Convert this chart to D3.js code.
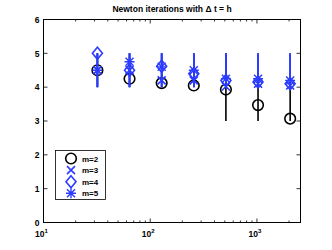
<!DOCTYPE html>
<html lang="en">
<head>
<meta charset="UTF-8">
<title>Newton iterations</title>
<script src="https://d3js.org/d3.v7.min.js"></script>
<style>
  body { margin: 0; padding: 0; background: #fff; }
  svg { display: block; font-family: "Liberation Sans", Arial, sans-serif; font-weight: bold; }
</style>
</head>
<body>
<svg id="chart" width="332" height="250"></svg>
<script>
  // grid sizes (x) and iteration counts per series
  const xs = [32, 64, 128, 256, 512, 1024, 2048];
  const m2 = [4.5, 4.25, 4.12, 4.05, 3.93, 3.47, 3.07];
  const m2lo = [4, 4, 4, 4, 3, 3, 3];
  const m2hi = [5, 5, 5, 5, 5, 4, 4];
  const m3 = [4.5, 4.5, 4.2, 4.2, 4.02, 4.1, 4.05];
  const m4 = [5.0, 4.5, 4.62, 4.4, 4.2, 4.15, 4.1];
  const m5 = [4.5, 4.75, 4.6, 4.5, 4.25, 4.25, 4.2];
  const blueLo = [4, 4, 4, 4, 4, 4, 4];
  const blueHi = [5, 5, 5, 5, 5, 5, 5];
  const yTicks = [0, 1, 2, 3, 4, 5, 6];
  const xTicks = [10, 100, 1000];
  const legendLabels = ["m=2", "m=3", "m=4", "m=5"];

  const black = "#000", blue = "#2b3bff";
  const svg = d3.select("#chart");
  const L = 43.5, R = 300.5, T = 19.5, B = 222.5;

  const x = d3.scaleLog().domain([10, 2560]).range([L, R]);
  const y = d3.scaleLinear().domain([0, 6]).range([B, T]);

  // title
  svg.append("text").attr("x", (L + R) / 2).attr("y", 12)
    .attr("text-anchor", "middle").attr("font-size", 8.5)
    .text("Newton iterations with \u0394 t = h");

  // axes box
  svg.append("rect").attr("x", L).attr("y", T).attr("width", R - L).attr("height", B - T)
    .attr("fill", "none").attr("stroke", "#000").attr("stroke-width", 1);

  const tk = svg.append("g").attr("stroke", "#000").attr("stroke-width", 0.8);
  // y ticks, both sides
  yTicks.forEach(v => {
    tk.append("line").attr("x1", L).attr("x2", L + 4).attr("y1", y(v)).attr("y2", y(v));
    tk.append("line").attr("x1", R).attr("x2", R - 4).attr("y1", y(v)).attr("y2", y(v));
    svg.append("text").attr("x", L - 4).attr("y", y(v) + 3.2)
      .attr("text-anchor", "end").attr("font-size", 8.5).text(v);
  });
  // x ticks: majors and log minors, top and bottom
  x.ticks().forEach(v => {
    const major = xTicks.includes(v);
    const len = major ? 4 : 2;
    tk.append("line").attr("x1", x(v)).attr("x2", x(v)).attr("y1", B).attr("y2", B - len);
    tk.append("line").attr("x1", x(v)).attr("x2", x(v)).attr("y1", T).attr("y2", T + len);
  });
  xTicks.forEach(v => {
    const t = svg.append("text").attr("x", x(v) - 2).attr("y", 237)
      .attr("text-anchor", "middle").attr("font-size", 8.5);
    t.append("tspan").text("10");
    t.append("tspan").attr("dy", -4).attr("font-size", 6).text(Math.log10(v));
  });

  // error bars
  function bars(lo, hi, color) {
    svg.append("g").selectAll("line").data(xs).join("line")
      .attr("x1", d => x(d)).attr("x2", d => x(d))
      .attr("y1", (d, i) => y(lo[i])).attr("y2", (d, i) => y(hi[i]))
      .attr("stroke", color).attr("stroke-width", 1.6);
  }

  // marker shapes
  const shapes = {
    circle: (g, cx, cy, c) => g.append("circle").attr("cx", cx).attr("cy", cy).attr("r", 5.3)
      .attr("fill", "none").attr("stroke", c).attr("stroke-width", 1.6),
    cross: (g, cx, cy, c) => g.append("path")
      .attr("d", `M${cx - 4},${cy - 4}L${cx + 4},${cy + 4}M${cx - 4},${cy + 4}L${cx + 4},${cy - 4}`)
      .attr("stroke", c).attr("stroke-width", 1.6),
    diamond: (g, cx, cy, c) => g.append("path")
      .attr("d", `M${cx},${cy - 6}L${cx + 5},${cy}L${cx},${cy + 6}L${cx - 5},${cy}Z`)
      .attr("fill", "none").attr("stroke", c).attr("stroke-width", 1.6),
    star: (g, cx, cy, c) => g.append("path")
      .attr("d", `M${cx - 4},${cy - 4}L${cx + 4},${cy + 4}M${cx - 4},${cy + 4}L${cx + 4},${cy - 4}` +
        `M${cx},${cy - 5}L${cx},${cy + 5}M${cx - 5},${cy}L${cx + 5},${cy}`)
      .attr("stroke", c).attr("stroke-width", 1.4)
  };

  function markers(vals, shape, color) {
    const g = svg.append("g");
    xs.forEach((d, i) => shapes[shape](g, x(d), y(vals[i]), color));
  }

  bars(m2lo, m2hi, black);
  markers(m2, "circle", black);
  bars(blueLo, blueHi, blue);
  markers(m3, "cross", blue);
  bars(blueLo, blueHi, blue);
  markers(m4, "diamond", blue);
  bars(blueLo, blueHi, blue);
  markers(m5, "star", blue);

  // legend
  const lg = svg.append("g");
  lg.append("rect").attr("x", 55.5).attr("y", 150.5).attr("width", 50).attr("height", 49)
    .attr("fill", "#fff").attr("stroke", "#000").attr("stroke-width", 0.8);
  const lShapes = ["circle", "cross", "diamond", "star"];
  const lColors = [black, blue, blue, blue];
  legendLabels.forEach((lab, i) => {
    const ly = 158.5 + i * 11.6;
    shapes[lShapes[i]](lg, 71, ly, lColors[i]);
    lg.append("text").attr("x", 82).attr("y", ly + 3).attr("font-size", 8).text(lab);
  });
</script>
</body>
</html>
